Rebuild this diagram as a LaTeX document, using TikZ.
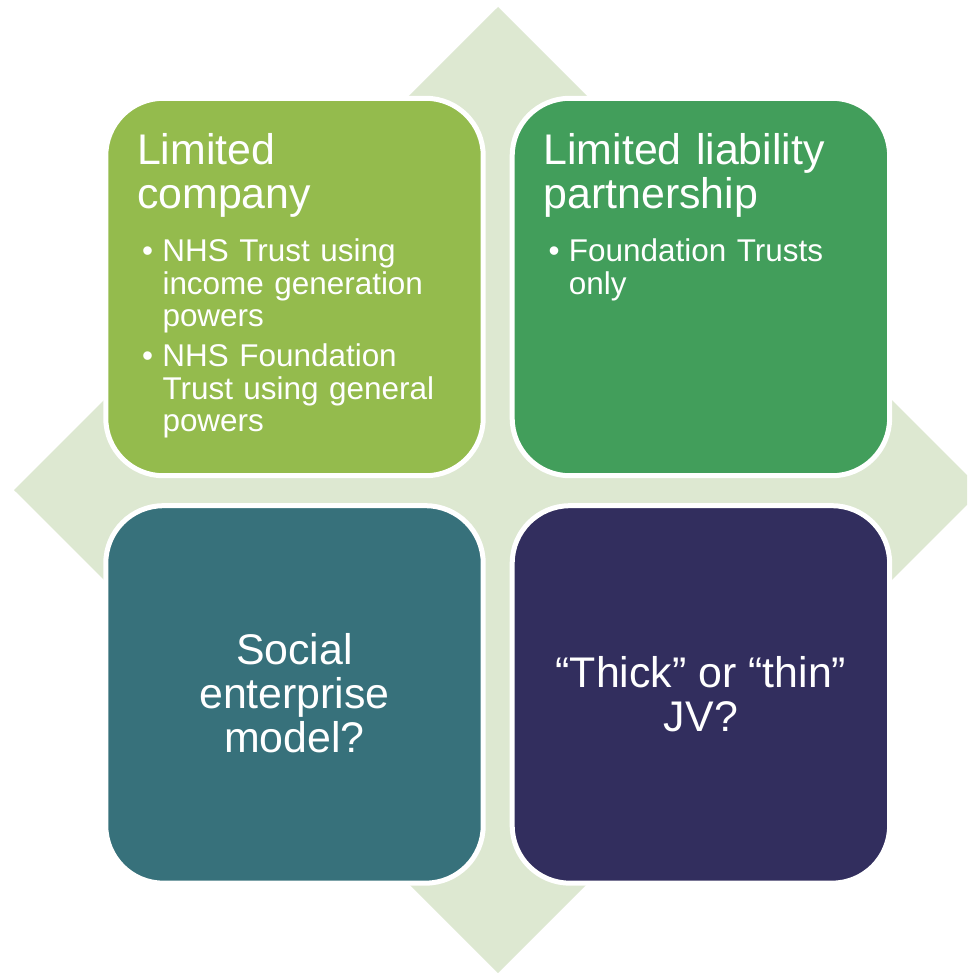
\documentclass[tikz,border=0pt]{standalone}
\usepackage{fontspec}
\setmainfont{Liberation Sans}
\usepackage{tikz}
\usetikzlibrary{positioning}

\definecolor{DiamondBg}{HTML}{DDE8D1}
\definecolor{LtdGreen}{HTML}{94BB4D}
\definecolor{LlpGreen}{HTML}{429E5B}
\definecolor{SocTeal}{HTML}{37717B}
\definecolor{JvNavy}{HTML}{322E5E}

\begin{document}
\begin{tikzpicture}[x=0.02cm, y=-0.02cm, node distance=0.58cm, every node/.style={text=white}]
\tikzstyle{tile}=[draw=white, line width=0.1cm, rounded corners=1.15cm, minimum width=7.55cm, minimum height=7.55cm, inner sep=0pt, outer sep=0pt]
\tikzstyle{head}=[font=\fontsize{24.4}{25}\selectfont, text width=7cm, align=left, anchor=base west, inner sep=0pt]
\tikzstyle{pts}=[font=\fontsize{17.9}{18.5}\selectfont, text width=7cm, align=left, anchor=base west, inner sep=0pt]
\tikzstyle{mid}=[font=\fontsize{24.4}{25}\selectfont, align=center]
\useasboundingbox (0,0) rectangle (967,973);
\fill[white] (0,0) rectangle (967,973);
% diamond behind the four tiles
\begin{scope}
\clip (0,0) rectangle (967,973);
\fill[DiamondBg] (498,7) -- (982,490) -- (498,973) -- (14,490) -- cycle;
\end{scope}
% tiles
\node[tile, fill=LtdGreen] (ltd) at (294.5,287) {};
\node[tile, fill=LlpGreen, right=of ltd] (llp) {};
\node[tile, fill=SocTeal, below=0.6cm of ltd] (soc) {};
\node[tile, fill=JvNavy, right=of soc] (jv) {};
% top row: heading plus bullet points
\node[head] (ltdhead) at ([shift={(31,66.5)}]ltd.north west) {Limited\\company};
\node[pts] (ltdpts) at ([shift={(31,163.5)}]ltd.north west) {%
\hspace*{2.85pt}\makebox[11.6pt][l]{\textbullet}NHS Trust using\\
\hspace*{14.45pt}income generation\\
\hspace*{14.45pt}powers\\[4.3pt]
\hspace*{2.85pt}\makebox[11.6pt][l]{\textbullet}NHS Foundation\\
\hspace*{14.45pt}Trust using general\\
\hspace*{14.45pt}powers};
\node[head] (llphead) at ([shift={(31,66.5)}]llp.north west) {Limited liability\\partnership};
\node[pts] (llppts) at ([shift={(31,163.5)}]llp.north west) {%
\hspace*{2.85pt}\makebox[11.6pt][l]{\textbullet}Foundation Trusts\\
\hspace*{14.45pt}only};
% bottom row: centred questions
\node[mid] (soctext) at ([yshift=0.03cm]soc) {Social\\enterprise\\model?};
\node[mid] (jvtext) at (jv) {“Thick” or “thin”\\JV?};
\end{tikzpicture}
\end{document}
